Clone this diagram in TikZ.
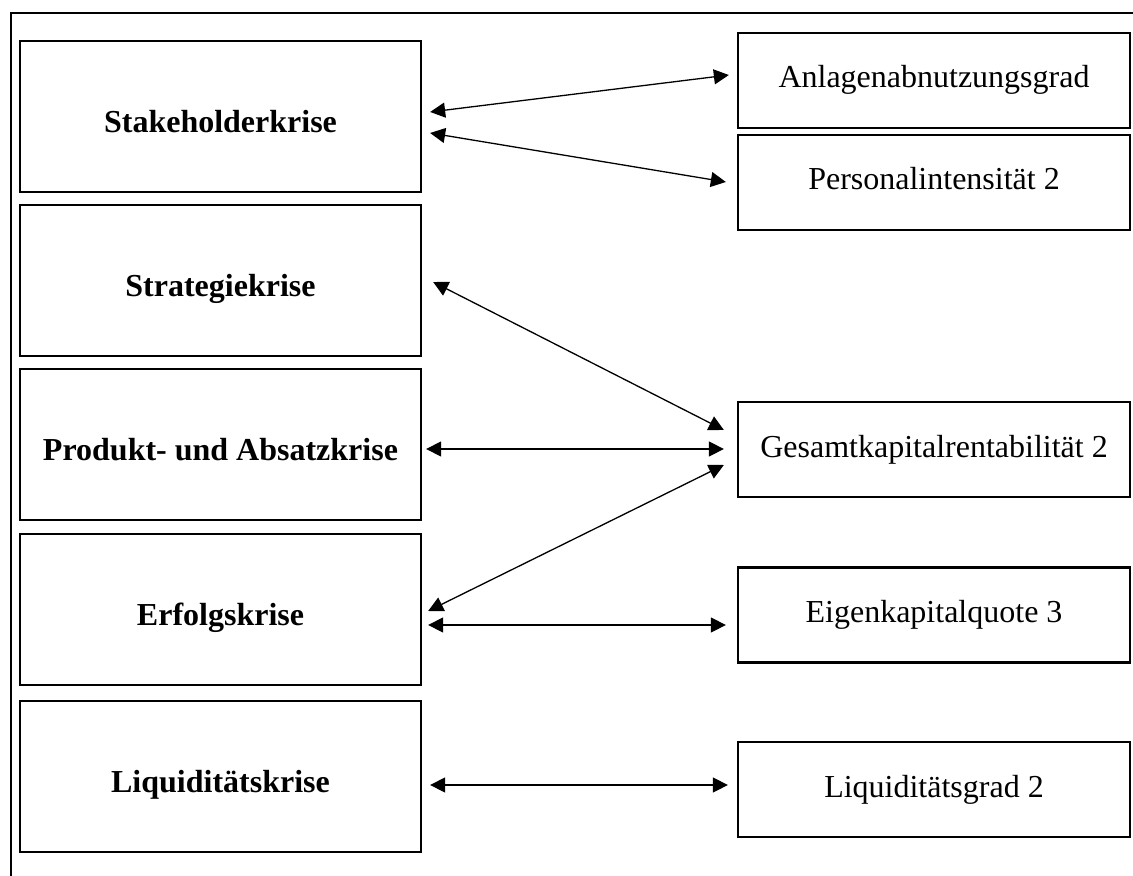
\documentclass[tikz,border=0pt]{standalone}
\usepackage{fontspec}
\setmainfont{Liberation Serif}
\usepackage{tikz}
\usetikzlibrary{shapes,arrows.meta}

\begin{document}
\begin{tikzpicture}[x=0.5pt, y=-0.5pt,
>={Triangle[length=7.5pt,width=7.5pt]},
krise/.style={draw, line width=1.15pt, rectangle, inner sep=0pt, minimum width=200.5pt, minimum height=75.5pt, text height=16pt, text depth=0pt, font=\fontsize{16}{19}\selectfont\bfseries},
kennzahl/.style={draw, line width=1.15pt, rectangle, inner sep=0pt, minimum width=196pt, minimum height=47.5pt, text height=7.5pt, text depth=0pt, font=\fontsize{16}{19}\selectfont}]

\useasboundingbox (0,0) rectangle (1133,876);
\draw[line width=1pt] (1133,13) -- (11,13) -- (11,876);

\node[krise]		(K1) at (220.5,116.5)		{Stakeholderkrise};
\node[krise]		(K2) at (220.5,280.5)		{Strategiekrise};
\node[krise]		(K3) at (220.5,444.5)		{Produkt- und Absatzkrise};
\node[krise]		(K4) at (220.5,609.5)		{Erfolgskrise};
\node[krise]		(K5) at (220.5,776.5)		{Liquiditätskrise};

\node[kennzahl]		(A) at (934,80.5)		{Anlagenabnutzungsgrad};
\node[kennzahl]		(P) at (934,182.5)		{Personalintensität 2};
\node[kennzahl]		(G) at (934,449.5)		{Gesamtkapitalrentabilität 2};
\node[kennzahl]		(E) at (934,615)		{Eigenkapitalquote 3};
\node[kennzahl]		(L) at (934,789.5)		{Liquiditätsgrad 2};


\path[<->, line width=0.65pt]
 ([shift={(8,-4.5)}]K1.east) edge ([shift={(-8,-5.5)}]A.west)
 ([shift={(8,16.5)}]K1.east) edge ([shift={(-11,-0.5)}]P.west)

 ([shift={(11,1.5)}]K2.east) edge ([shift={(-13,-19.5)}]G.west)
 ([shift={(4,4.5)}]K3.east) edge ([shift={(-13,-0.5)}]G.west)
 ([shift={(6,1.5)}]K4.east) edge ([shift={(-13,15.5)}]G.west)

 ([shift={(6,15.5)}]K4.east) edge ([shift={(-11,10)}]E.west)
 ([shift={(8,8.5)}]K5.east) edge ([shift={(-9,-4.5)}]L.west);

\end{tikzpicture}
\end{document}
